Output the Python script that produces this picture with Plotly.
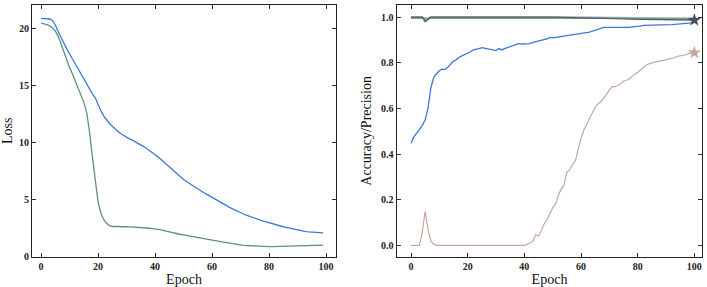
import plotly.graph_objects as go

# ---------------- data ----------------
loss_epochs = list(range(100))
train_loss = [20.88, 20.86, 20.85, 20.82, 20.7, 20.3, 19.7, 19.15, 18.65, 18.2,
              17.75, 17.3, 16.9, 16.5, 16.05, 15.55, 15.1, 14.65, 14.25, 13.9,
              13.3, 12.75, 12.3, 11.95, 11.65, 11.4, 11.15, 10.95, 10.75, 10.58,
              10.42, 10.3, 10.18, 10.05, 9.92, 9.78, 9.62, 9.45, 9.28, 9.1,
              8.92, 8.72, 8.5, 8.27, 8.03, 7.8, 7.57, 7.35, 7.13, 6.92,
              6.72, 6.55, 6.38, 6.22, 6.06, 5.9, 5.74, 5.59, 5.44, 5.29,
              5.15, 5.0, 4.86, 4.72, 4.58, 4.45, 4.3, 4.17, 4.04, 3.92,
              3.8, 3.7, 3.6, 3.5, 3.41, 3.32, 3.23, 3.15, 3.07, 3.0,
              2.92, 2.85, 2.78, 2.71, 2.64, 2.58, 2.52, 2.46, 2.4, 2.34,
              2.29, 2.24, 2.2, 2.16, 2.13, 2.11, 2.09, 2.08, 2.06, 2.05]
val_loss = [20.45, 20.4, 20.33, 20.22, 20.05, 19.75, 19.3, 18.65, 17.9, 17.2,
            16.55, 16.0, 15.4, 14.8, 14.2, 13.5, 12.6, 10.9, 8.7, 6.5,
            4.75, 3.75, 3.2, 2.88, 2.68, 2.6, 2.62, 2.6, 2.58, 2.6,
            2.58, 2.56, 2.55, 2.57, 2.52, 2.5, 2.48, 2.47, 2.45, 2.43,
            2.4, 2.35, 2.3, 2.24, 2.16, 2.08, 2.03, 1.98, 1.94, 1.9,
            1.86, 1.82, 1.78, 1.74, 1.7, 1.66, 1.61, 1.56, 1.51, 1.46,
            1.42, 1.37, 1.32, 1.27, 1.22, 1.17, 1.13, 1.09, 1.05, 1.01,
            0.98, 0.95, 0.93, 0.91, 0.89, 0.88, 0.87, 0.86, 0.85, 0.84,
            0.83, 0.84, 0.85, 0.86, 0.87, 0.88, 0.89, 0.9, 0.91, 0.92,
            0.93, 0.94, 0.94, 0.95, 0.95, 0.96, 0.96, 0.97, 0.97, 0.97]

acc_epochs = list(range(101))
accuracy = [0.447, 0.475, 0.492, 0.51, 0.525, 0.55, 0.6, 0.69, 0.735, 0.752,
            0.765, 0.772, 0.771, 0.78, 0.795, 0.807, 0.813, 0.824, 0.83, 0.835,
            0.84, 0.848, 0.856, 0.858, 0.862, 0.866, 0.864, 0.86, 0.858, 0.858,
            0.853, 0.862, 0.856, 0.862, 0.867, 0.872, 0.874, 0.879, 0.884, 0.882,
            0.882, 0.882, 0.884, 0.889, 0.892, 0.894, 0.896, 0.899, 0.904, 0.911,
            0.909, 0.911, 0.913, 0.915, 0.917, 0.919, 0.921, 0.922, 0.924, 0.925,
            0.926, 0.928, 0.931, 0.934, 0.939, 0.943, 0.947, 0.952, 0.955, 0.955,
            0.955, 0.953, 0.952, 0.952, 0.953, 0.953, 0.954, 0.955, 0.957, 0.957,
            0.958, 0.96, 0.964, 0.964, 0.964, 0.964, 0.965, 0.965, 0.965, 0.965,
            0.965, 0.966, 0.967, 0.968, 0.969, 0.97, 0.971, 0.972, 0.972, 0.974,
            0.976]
precision = [0, 0, 0, 0, 0.06, 0.148, 0.07, 0.018, 0.006, 0,
             0, 0, 0, 0, 0, 0, 0, 0, 0, 0,
             0, 0, 0, 0, 0, 0, 0, 0, 0, 0,
             0, 0, 0, 0, 0, 0, 0, 0, 0, 0,
             0, 0.004, 0.01, 0.017, 0.047, 0.04, 0.065, 0.094, 0.112, 0.135,
             0.165, 0.18, 0.22, 0.245, 0.265, 0.32, 0.33, 0.355, 0.37, 0.42,
             0.47, 0.505, 0.53, 0.55, 0.575, 0.605, 0.62, 0.63, 0.645, 0.665,
             0.68, 0.695, 0.695, 0.7, 0.708, 0.72, 0.722, 0.73, 0.742, 0.75,
             0.757, 0.768, 0.78, 0.79, 0.795, 0.8, 0.803, 0.805, 0.808, 0.81,
             0.812, 0.815, 0.818, 0.822, 0.828, 0.83, 0.831, 0.835, 0.84, 0.842,
             0.844]

top_epochs = [0, 4, 5, 6, 7, 50, 55, 60, 65, 70, 75, 80, 85, 90, 95, 100]
dark_top = [1.0, 1.0, 0.981, 0.99, 1.0, 1.0, 0.999, 0.997, 0.995, 0.993, 0.992, 0.99, 0.989, 0.988, 0.987, 0.987]
light_top = [1.0, 1.0, 0.983, 0.992, 1.0, 1.0, 1.0, 1.0, 0.999, 0.998, 0.997, 0.995, 0.994, 0.992, 0.991, 0.99]
teal_epochs = [0, 100]
teal_top = [0.995, 0.995]

star_epochs = [100, 100]
star_values = [0.987, 0.844]

# ---------------- styles ----------------
BLUE = "#3a78d8"
GREEN = "#5f8f80"
PINK = "#c9a59d"
DARK = "#5a5e6b"
LIGHT = "#b5b9bd"
TEAL = "#6ba596"
SERIF = "Liberation Serif"

fig = go.Figure()
fig.add_trace(go.Scatter(x=loss_epochs, y=train_loss, mode="lines",
                         line=dict(color=BLUE, width=1.3), xaxis="x", yaxis="y"))
fig.add_trace(go.Scatter(x=loss_epochs, y=val_loss, mode="lines",
                         line=dict(color=GREEN, width=1.3), xaxis="x", yaxis="y"))

fig.add_trace(go.Scatter(x=top_epochs, y=light_top, mode="lines",
                         line=dict(color=LIGHT, width=2.2), xaxis="x2", yaxis="y2"))
fig.add_trace(go.Scatter(x=teal_epochs, y=teal_top, mode="lines",
                         line=dict(color=TEAL, width=1.5), xaxis="x2", yaxis="y2"))
fig.add_trace(go.Scatter(x=top_epochs, y=dark_top, mode="lines",
                         line=dict(color=DARK, width=1.4), xaxis="x2", yaxis="y2"))
fig.add_trace(go.Scatter(x=acc_epochs, y=accuracy, mode="lines",
                         line=dict(color=BLUE, width=1.3), xaxis="x2", yaxis="y2"))
fig.add_trace(go.Scatter(x=acc_epochs, y=precision, mode="lines",
                         line=dict(color=PINK, width=1.2), xaxis="x2", yaxis="y2"))
fig.add_trace(go.Scatter(x=star_epochs, y=star_values, mode="markers",
                         marker=dict(symbol="star", size=10, color=["#4a4c63", PINK],
                                     line=dict(width=0)),
                         xaxis="x2", yaxis="y2"))

tickfont = dict(family=SERIF, size=10, color="#222", weight="bold")
titlefont = dict(family=SERIF, size=14, color="#111")

def axis(domain, rng, dtick, anchor, title, fmt=None, standoff=4):
    a = dict(domain=domain, range=rng, dtick=dtick, tick0=0, anchor=anchor,
             showline=True, mirror="ticks", linecolor="#222", linewidth=1.2,
             ticks="inside", ticklen=4, tickwidth=1, tickcolor="#333",
             showgrid=False, zeroline=False, tickfont=tickfont,
             title=dict(text=title, font=titlefont, standoff=standoff),
             automargin=False)
    if fmt:
        a["tickformat"] = fmt
    return a

ydom = [30.3 / 287, 282 / 287]
fig.update_layout(
    width=707, height=287,
    margin=dict(l=0, r=0, t=0, b=0),
    paper_bgcolor="white", plot_bgcolor="white",
    showlegend=False,
    xaxis=axis([32 / 707, 336 / 707], [-3.2, 103.5], 20, "y", "Epoch", standoff=3),
    yaxis=axis(ydom, [-0.05, 22.05], 5, "x", "Loss", standoff=6),
    xaxis2=axis([396.7 / 707, 702.3 / 707], [-5.05, 102.8], 20, "y2", "Epoch", standoff=3),
    yaxis2=axis(ydom, [-0.05, 1.053], 0.2, "x2", "Accuracy/Precision", fmt=".1f", standoff=6),
)

fig.write_html("out.html", config={"displayModeBar": False},
               post_script="document.body.style.margin='0';")
